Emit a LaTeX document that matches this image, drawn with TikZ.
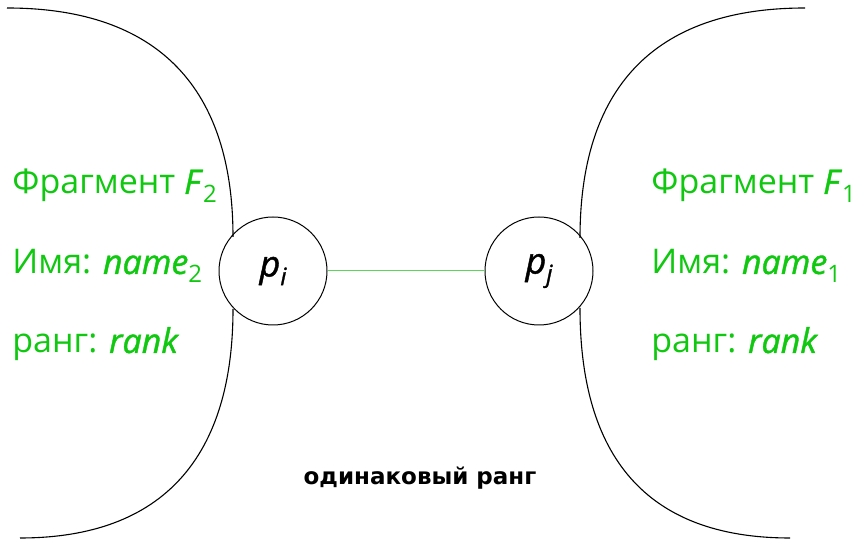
\documentclass[tikz,border=0pt]{standalone}
\usepackage{fontspec}
\setmainfont{Open Sans}[ItalicFeatures={FakeBold=1.2}]
\newfontfamily\botfont{DejaVu Sans}
\definecolor{txtgreen}{RGB}{16,200,16}
\definecolor{linegreen}{RGB}{90,215,90}
\newcommand{\lowidx}[1]{\raisebox{-0.45ex}{\fontsize{12}{12}\selectfont #1}}
\begin{document}
\begin{tikzpicture}[x=0.5pt,y=-0.5pt,
  lbl/.style={anchor=base west, text=txtgreen, font=\fontsize{17}{20}\selectfont, inner sep=0pt},
  pnode/.style={circle, draw, line width=0.5pt, minimum size=54pt, inner sep=0pt, font=\fontsize{18}{20}\selectfont\itshape},
  bound/.style={line width=0.55pt},
  link/.style={draw=linegreen, line width=0.5pt}]
\useasboundingbox (0,0) rectangle (853,539);
\node[pnode] (pi) at (273,271) {p\lowidx{i}};
\node[pnode] (pj) at (539,271) {p\lowidx{j}};
\draw[link] (pi) -- (pj);
\coordinate (lt0) at (7,8);
\coordinate (lt1) at (233,237);
\coordinate (lb0) at (233,309);
\coordinate (lb1) at (20,538);
\coordinate (rt0) at (805,8);
\coordinate (rt1) at (580,238);
\coordinate (rb0) at (580,308);
\coordinate (rb1) at (790,538);
\draw[bound] (lt0) .. controls (160,8) and (233,90) .. (lt1);
\draw[bound] (lb0) .. controls (233,455) and (165,538) .. (lb1);
\draw[bound] (rt0) .. controls (652,8) and (580,90) .. (rt1);
\draw[bound] (rb0) .. controls (580,455) and (645,538) .. (rb1);
\node[lbl] (f2) at (12,194) {Фрагмент \textit{F}\lowidx{2}};
\node[lbl] (n2) at (12,274) {Имя: \textit{name}\lowidx{2}};
\node[lbl] (r2) at (12,353) {ранг: \textit{rank}};
\node[lbl] (f1) at (651,194) {Фрагмент \textit{F}\lowidx{1}};
\node[lbl] (n1) at (651,274) {Имя: \textit{name}\lowidx{1}};
\node[lbl] (r1) at (651,353) {ранг: \textit{rank}};
\node[anchor=base, inner sep=0pt, font=\botfont\bfseries\fontsize{11.5}{14}\selectfont] (same) at (420,485) {одинаковый ранг};
\end{tikzpicture}
\end{document}
